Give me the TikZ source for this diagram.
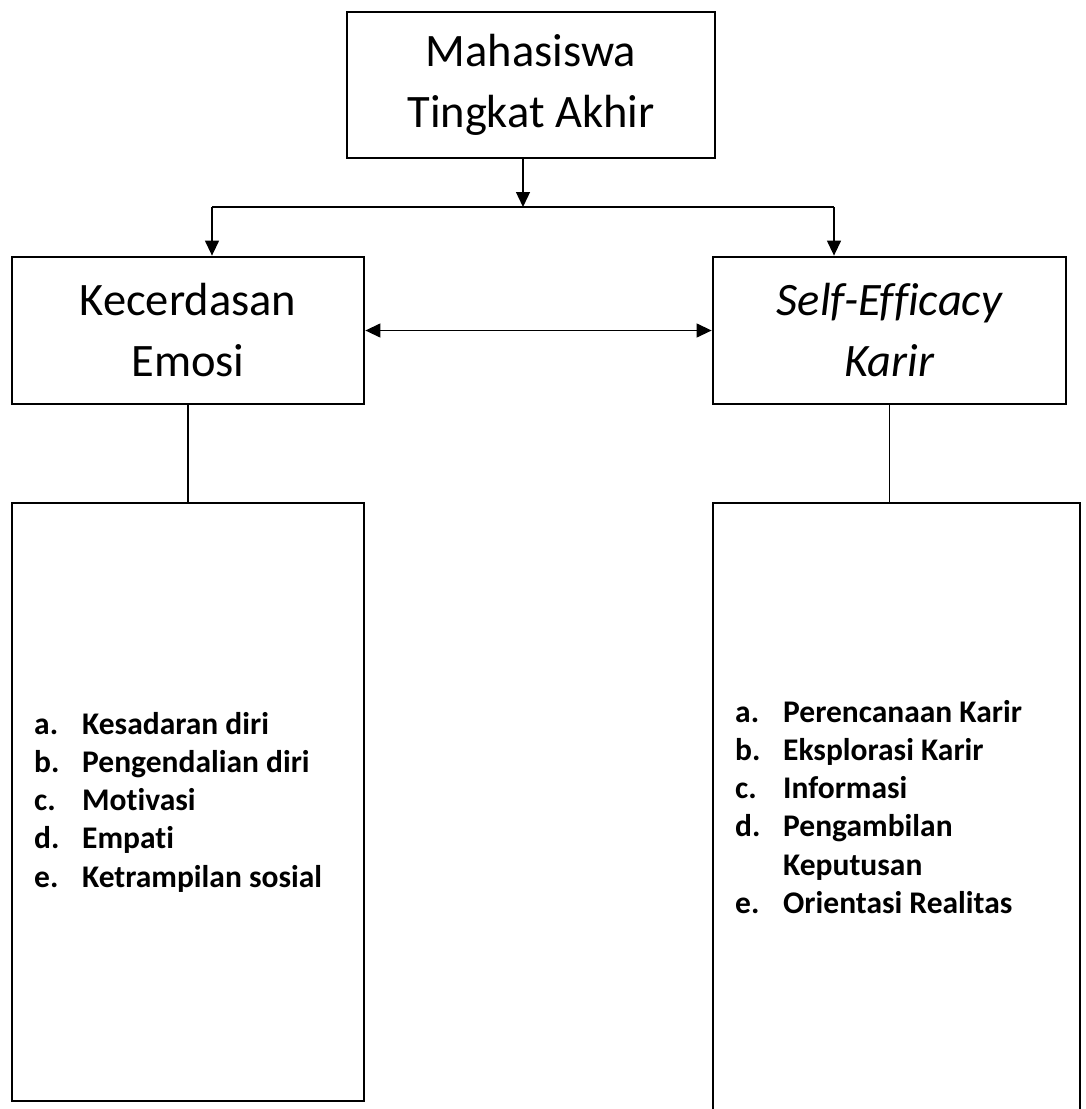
\documentclass[tikz,border=0pt]{standalone}
\usepackage{fontspec}
\setmainfont{Carlito}[Ligatures=NoCommon]
\usetikzlibrary{arrows.meta}
\begin{document}
\begin{tikzpicture}[x=1pt,y=-1pt,
  box/.style={draw,line width=2.8pt,rectangle,inner sep=0pt,align=center,
    font=\fontsize{46.5}{61}\selectfont},
  listbox/.style={draw,line width=2.8pt,rectangle,inner sep=0pt},
  listtext/.style={inner sep=0pt,anchor=base west,font=\fontsize{31.5}{38.3}\selectfont\bfseries},
  conn/.style={line width=1.3pt},
  arr/.style={conn,-{Triangle[length=15pt,width=14pt]}},
  darr/.style={conn,{Triangle[length=15pt,width=14pt]}-{Triangle[length=15pt,width=14pt]}}]
\useasboundingbox (0,0) rectangle (1086,1109);
% boxes
\node[box,minimum width=368pt,minimum height=146pt] (top) at (531,85) {Mahasiswa\\Tingkat Akhir};
\node[box,minimum width=352pt,minimum height=147pt] (left) at (188,330.5) {Kecerdasan\\Emosi};
\node[box,minimum width=353pt,minimum height=147pt] (right) at (889.5,330.5) {\itshape Self-Efficacy\\\itshape Karir};
\node[listbox,minimum width=352pt,minimum height=598pt] (lowL) at (188,802) {};
\node[listbox,minimum width=367pt,minimum height=640pt] (lowR) at (896.5,823) {};
% list texts
\node[listtext] (listL) at (34,734) {\begin{tabular}[t]{@{}l@{}}
\makebox[48pt][l]{a.}Kesadaran diri\\
\makebox[48pt][l]{b.}Pengendalian diri\\
\makebox[48pt][l]{c.}Motivasi\\
\makebox[48pt][l]{d.}Empati\\
\makebox[48pt][l]{e.}Ketrampilan sosial
\end{tabular}};
\node[listtext] (listR) at (735,722) {\begin{tabular}[t]{@{}l@{}}
\makebox[48pt][l]{a.}Perencanaan Karir\\
\makebox[48pt][l]{b.}Eksplorasi Karir\\
\makebox[48pt][l]{c.}Informasi\\
\makebox[48pt][l]{d.}Pengambilan\\
\makebox[48pt][l]{}Keputusan\\
\makebox[48pt][l]{e.}Orientasi Realitas
\end{tabular}};
% connectors
\coordinate (j) at (523,207);
\coordinate (hl) at (212,207);
\coordinate (hr) at (834,207);
\draw[arr] ([xshift=-8pt]top.south) -- (j);
\draw[conn] (hl) -- (hr);
\draw[arr] (hl) -- (hl |- left.north);
\draw[arr] (hr) -- (hr |- right.north);
\draw[darr] (left.east) -- (right.west);
\draw[conn] (left.south) -- (lowL.north);
\draw[conn] (right.south) -- (right.south |- lowR.north);
\end{tikzpicture}
\end{document}
